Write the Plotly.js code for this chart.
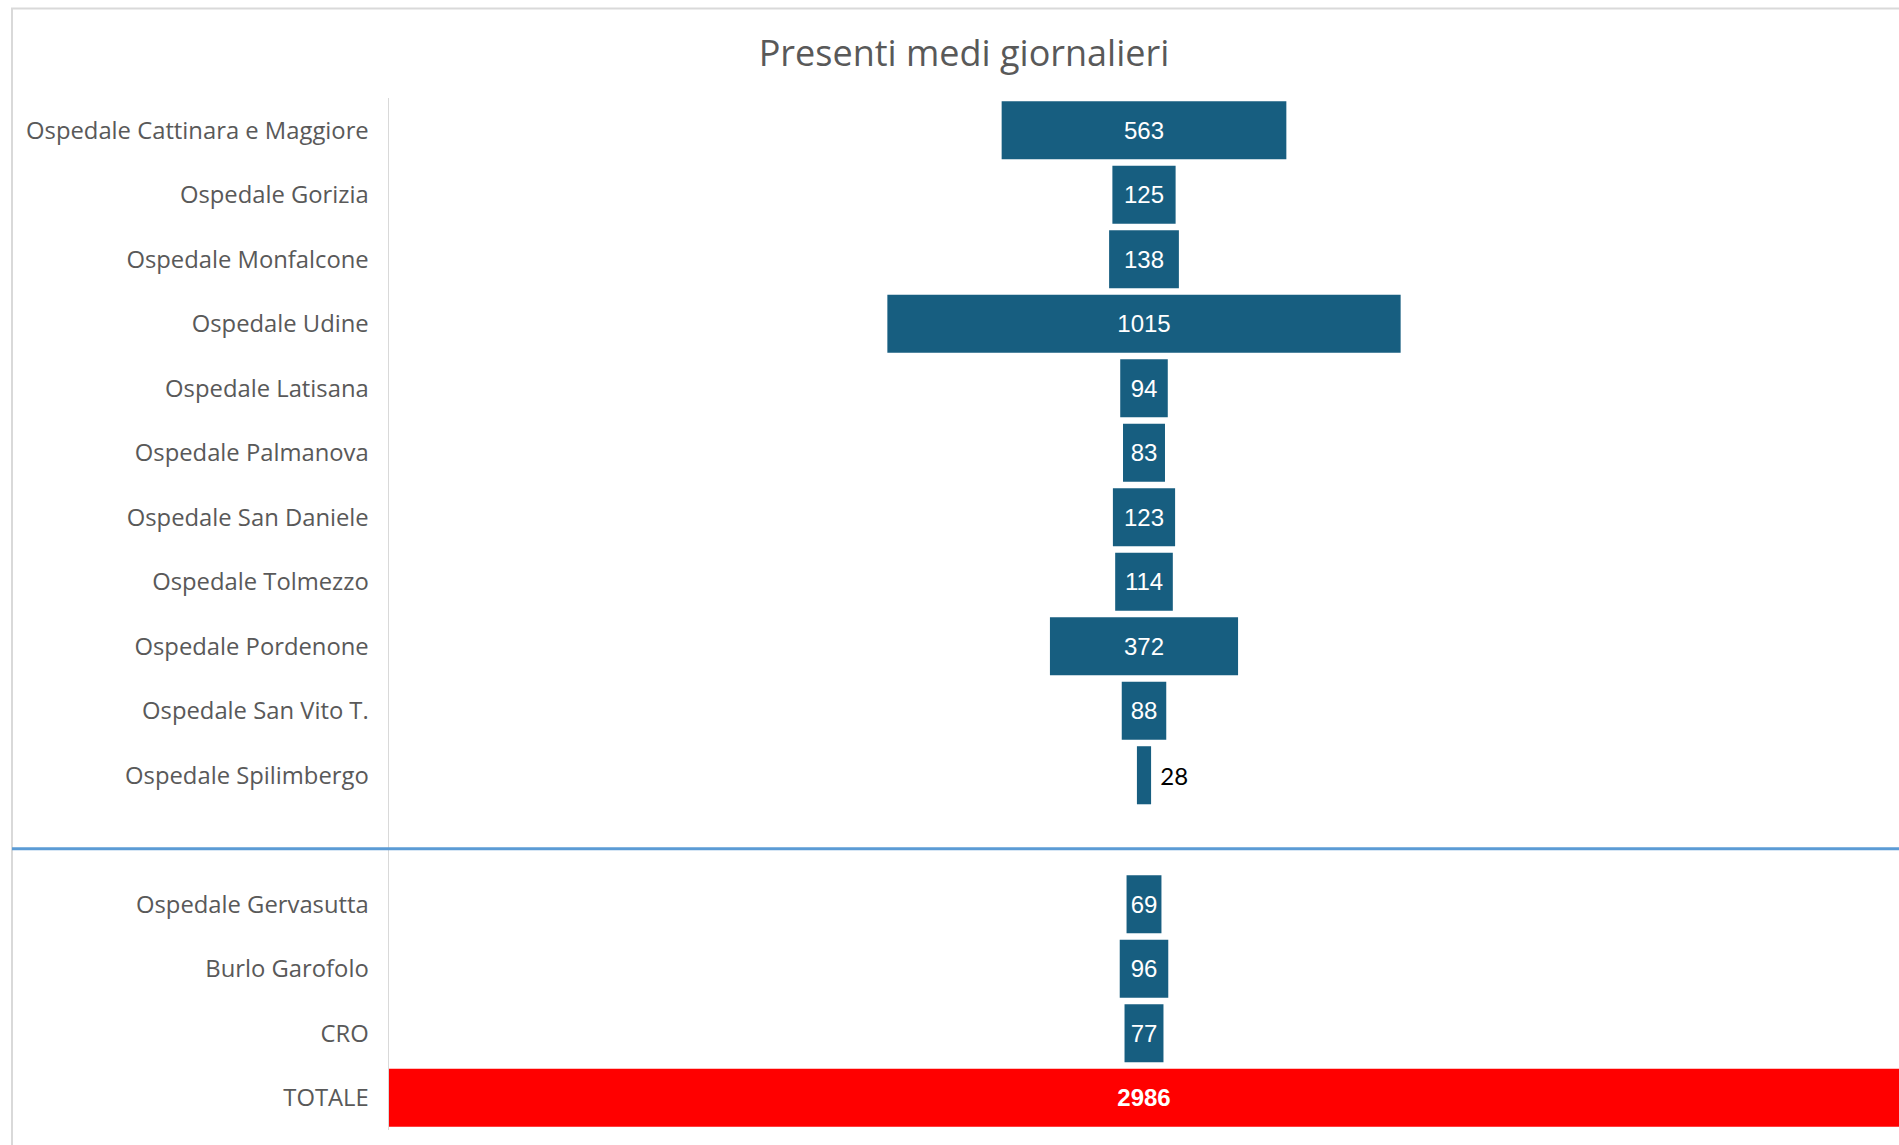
<!DOCTYPE html>
<html>
<head>
<meta charset="utf-8">
<script src="https://cdn.plot.ly/plotly-3.0.1.min.js"></script>
<style>html,body{margin:0;padding:0;background:#fff;}#chart{width:1899px;height:1145px;}</style>
</head>
<body>
<div id="chart"></div>
<script>
// ---- data ----
const hospitalsA = ["Ospedale Cattinara e Maggiore","Ospedale Gorizia","Ospedale Monfalcone","Ospedale Udine","Ospedale Latisana","Ospedale Palmanova","Ospedale San Daniele","Ospedale Tolmezzo","Ospedale Pordenone","Ospedale San Vito T.","Ospedale Spilimbergo"];
const valuesA = [563,125,138,1015,94,83,123,114,372,88,28];
const hospitalsB = ["Ospedale Gervasutta","Burlo Garofolo","CRO","TOTALE"];
const valuesB = [69,96,77,2986];
const spacer = " ";
const chartTitle = "Presenti medi giornalieri";

// ---- build ----
const cats = hospitalsA.concat(hospitalsB);
const vals = valuesA.concat(valuesB);
const blue = "#175e80", red = "#ff0000";
const isTotal = cats.map(c => c === "TOTALE");
const small = vals.map(v => v < 40);
const colors = isTotal.map(t => t ? red : blue);

const W = 1899, H = 1145;
const L = 389, R = 0, T = 97.5, B = 14.5;
const half = valuesB[valuesB.length-1] / 2;

const trace = {
  type: "funnel",
  orientation: "h",
  y: cats,
  x: vals,
  marker: {color: colors, line: {width: 0}},
  connector: {visible: false},
  texttemplate: small.map(s => s ? " %{x}" : "%{x}"),
  textposition: small.map(s => s ? "outside" : "inside"),
  constraintext: "none",
  insidetextanchor: "middle",
  textfont: {
    color: small.map(s => s ? "#000000" : "#ffffff"),
    family: small.map(s => s ? "Lato, sans-serif" : "'Liberation Sans', Arial, sans-serif"),
    size: 24,
    weight: isTotal.map(t => t ? "bold" : "normal")
  },
  hoverinfo: "y+x"
};

const lineYpx = 849;
const layout = {
  width: W, height: H,
  margin: {l: L, r: R, t: T, b: B, pad: 0},
  paper_bgcolor: "#ffffff",
  plot_bgcolor: "#ffffff",
  showlegend: false,
  title: {
    text: chartTitle,
    font: {family: "'Open Sans', sans-serif", size: 36, color: "#595959"},
    x: 964 / W, xref: "container", xanchor: "center",
    y: 1 - 53 / H, yref: "container", yanchor: "middle"
  },
  funnelgap: 0.1,
  xaxis: {range: [-half, half], visible: false, showgrid: false, zeroline: false, fixedrange: true},
  yaxis: {
    type: "category",
    categoryorder: "array",
    categoryarray: hospitalsA.concat([spacer], hospitalsB),
    range: [hospitalsA.length + hospitalsB.length + 0.5, -0.5],
    autorange: false,
    showline: true, linecolor: "#d9d9d9", linewidth: 1.5,
    ticks: "", ticklabelstandoff: 14,
    showgrid: false, zeroline: false,
    tickfont: {family: "'Open Sans', sans-serif", size: 23.8, color: "#595959"}
  },
  shapes: [
    {type: "rect", xref: "paper", yref: "paper",
     x0: (12 - L) / (W - L - R), x1: 1.05,
     y0: -0.05, y1: (H - B - 8) / (H - T - B),
     line: {color: "#d9d9d9", width: 2}, fillcolor: "rgba(0,0,0,0)", layer: "below"},
    {type: "line", xref: "paper", yref: "paper",
     x0: (12 - L) / (W - L - R), x1: 1.05,
     y0: (H - B - lineYpx) / (H - T - B), y1: (H - B - lineYpx) / (H - T - B),
     line: {color: "#5b9bd5", width: 3}}
  ]
};

Plotly.newPlot("chart", [trace], layout, {displayModeBar: false, staticPlot: true});
</script>
</body>
</html>
